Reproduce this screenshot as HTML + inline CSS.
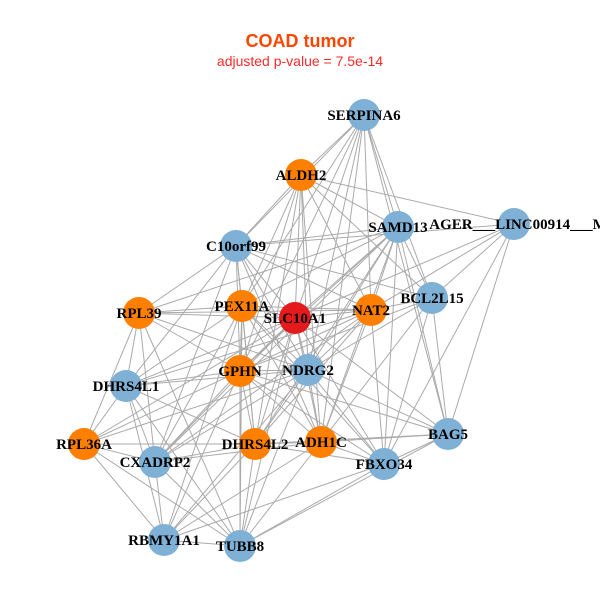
<!DOCTYPE html>
<html><head><meta charset="utf-8"><style>
html,body{margin:0;padding:0;background:#fff;width:600px;height:600px;overflow:hidden}
</style></head><body>
<svg id="s" width="600" height="600" xmlns="http://www.w3.org/2000/svg">
<rect width="600" height="600" fill="#fff"/>
<text x="300" y="47" text-anchor="middle" font-family="Liberation Sans, sans-serif" font-weight="bold" font-size="18" fill="#ff4500">COAD tumor</text>
<text x="300" y="66" text-anchor="middle" font-family="Liberation Sans, sans-serif" font-size="14" fill="#ff2a2a">adjusted p-value = 7.5e-14</text>
<g id="edges" stroke="#aaaaaa" stroke-width="1"></g>
<g id="nodes"></g>
<g font-family="Liberation Serif, serif" font-weight="bold" font-size="15" text-anchor="middle" fill="#000">
<text x="364" y="120">SERPINA6</text>
<text x="301" y="180">ALDH2</text>
<text x="398" y="232">SAMD13</text>
<text x="518" y="229">AGER___LINC00914___M</text>
<text x="236" y="251">C10orf99</text>
<text x="139" y="318">RPL39</text>
<text x="242" y="311">PEX11A</text>
<text x="295" y="323">SLC10A1</text>
<text x="371" y="315">NAT2</text>
<text x="432" y="303">BCL2L15</text>
<text x="126" y="391">DHRS4L1</text>
<text x="240" y="376">GPHN</text>
<text x="308" y="375">NDRG2</text>
<text x="84" y="449">RPL36A</text>
<text x="155" y="467">CXADRP2</text>
<text x="255" y="449">DHRS4L2</text>
<text x="321" y="447">ADH1C</text>
<text x="448" y="439">BAG5</text>
<text x="384" y="469">FBXO34</text>
<text x="164" y="545">RBMY1A1</text>
<text x="240" y="551">TUBB8</text>
</g>
</svg>
<script>
var N={SERPINA6:[364,115,'b'],ALDH2:[301,175,'o'],SAMD13:[398,227,'b'],AGER:[514,224,'b'],C10orf99:[236,246,'b'],RPL39:[139,313,'o'],PEX11A:[242,306,'o'],SLC10A1:[295,318,'r'],NAT2:[371,310,'o'],BCL2L15:[432,298,'b'],DHRS4L1:[126,386,'b'],GPHN:[240,371,'o'],NDRG2:[308,370,'b'],RPL36A:[84,444,'o'],CXADRP2:[155,462,'b'],DHRS4L2:[255,444,'o'],ADH1C:[321,442,'o'],BAG5:[448,434,'b'],FBXO34:[384,464,'b'],RBMY1A1:[164,540,'b'],TUBB8:[240,546,'b']};
var E={SERPINA6:'ALDH2 SAMD13 C10orf99 PEX11A SLC10A1 NAT2 BCL2L15 GPHN NDRG2 BAG5 ADH1C',
ALDH2:'C10orf99 SAMD13 PEX11A SLC10A1 NAT2 GPHN NDRG2 BCL2L15 DHRS4L2 ADH1C AGER',
SAMD13:'C10orf99 PEX11A SLC10A1 NAT2 BCL2L15 GPHN NDRG2 FBXO34 BAG5 ADH1C DHRS4L2 CXADRP2 RPL39',
AGER:'C10orf99 NAT2 BCL2L15 FBXO34 BAG5 SLC10A1',
C10orf99:'PEX11A SLC10A1 GPHN NDRG2 DHRS4L1 RPL39 CXADRP2 DHRS4L2 ADH1C NAT2 BCL2L15',
RPL39:'PEX11A SLC10A1 NAT2 DHRS4L1 RPL36A GPHN CXADRP2 NDRG2 TUBB8',
PEX11A:'SLC10A1 NAT2 GPHN NDRG2 DHRS4L1 CXADRP2 DHRS4L2 ADH1C RBMY1A1 TUBB8 FBXO34',
SLC10A1:'NAT2 GPHN NDRG2 DHRS4L2 ADH1C FBXO34 BAG5 CXADRP2 DHRS4L1 RPL36A TUBB8',
NAT2:'BCL2L15 GPHN NDRG2 ADH1C FBXO34 DHRS4L2 CXADRP2 DHRS4L1',
BCL2L15:'NDRG2 ADH1C FBXO34 BAG5 GPHN',
DHRS4L1:'GPHN NDRG2 RPL36A CXADRP2 DHRS4L2 RBMY1A1 TUBB8',
GPHN:'NDRG2 RPL36A CXADRP2 DHRS4L2 ADH1C FBXO34 RBMY1A1 TUBB8 BAG5',
NDRG2:'RPL36A CXADRP2 DHRS4L2 ADH1C FBXO34 BAG5 RBMY1A1 TUBB8',
RPL36A:'CXADRP2 DHRS4L2 RBMY1A1 TUBB8',
CXADRP2:'DHRS4L2 ADH1C RBMY1A1 TUBB8',
DHRS4L2:'ADH1C FBXO34 RBMY1A1 TUBB8 BAG5',
ADH1C:'FBXO34 BAG5 RBMY1A1 TUBB8',
BAG5:'FBXO34 TUBB8',FBXO34:'TUBB8 RBMY1A1',RBMY1A1:'TUBB8'};
var ns='http://www.w3.org/2000/svg',eg=document.getElementById('edges'),ng=document.getElementById('nodes');
for(var a in E){E[a].split(' ').forEach(function(b){var l=document.createElementNS(ns,'line');l.setAttribute('x1',N[a][0]);l.setAttribute('y1',N[a][1]);l.setAttribute('x2',N[b][0]);l.setAttribute('y2',N[b][1]);eg.appendChild(l);});}
var C={b:'#7fb0d6',o:'#ff7f00',r:'#e41a1c'};
for(var k in N){var c=document.createElementNS(ns,'circle');c.setAttribute('cx',N[k][0]);c.setAttribute('cy',N[k][1]);c.setAttribute('r',16);c.setAttribute('fill',C[N[k][2]]);ng.appendChild(c);}
</script>
</body></html>
